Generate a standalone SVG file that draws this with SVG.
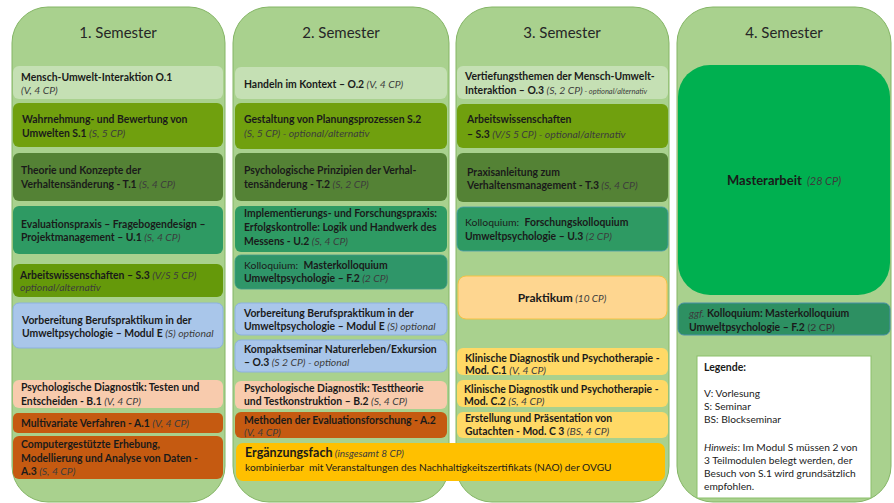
<svg xmlns="http://www.w3.org/2000/svg" width="894" height="503" viewBox="0 0 894 503">
<style>
text{font-family:Lato,"Liberation Sans",sans-serif;font-size:10.4px;fill:#1a1a1a}
.b{font-weight:bold}
.i{font-style:italic;font-weight:normal;fill:#3c3c3c}
.n{font-weight:normal}
.s{font-size:7.5px}
.title{font-size:15px;fill:#262626;text-anchor:middle}
.col{fill:#a9d18e;stroke:#84b565;stroke-width:1}
.lg{fill:#c5e0b4}
.ol{fill:#70a00e}
.ol2{fill:#65990a}
.dg{fill:#548235}
.tl{fill:#2e9a63}
.tl2{fill:#2f9669;stroke:#3f9a8a;stroke-width:0.8}
.bl{fill:#a9c6ea;stroke:#8db1e0;stroke-width:1}
.pe{fill:#f8cbad}
.or{fill:#c55a11}
.ye{fill:#ffd966}
.leg{font-weight:normal;fill:#222;font-size:10.2px}
</style>
<g id="columns">
<rect class="col" x="12" y="7" width="213" height="495" rx="36"/>
<rect class="col" x="233" y="7" width="216" height="495" rx="36"/>
<rect class="col" x="456" y="7" width="213" height="495" rx="36"/>
<rect class="col" x="677" y="7" width="214" height="495" rx="36"/>
<text class="title" x="118" y="38">1. Semester</text>
<text class="title" x="341" y="38">2. Semester</text>
<text class="title" x="562" y="38">3. Semester</text>
<text class="title" x="784" y="38">4. Semester</text>
</g>
<g id="s1-O1"><rect class="lg" x="13" y="66" width="210" height="33" rx="6"/>
<text class="b" x="21" y="81">Mensch-Umwelt-Interaktion O.1</text><text class="i" x="21" y="94">(V, 4 CP)</text></g>
<g id="s1-S1"><rect class="ol" x="13" y="103" width="210" height="44" rx="6"/>
<text class="b" x="22" y="123">Wahrnehmung- und Bewertung von</text><text class="b" x="22" y="137">Umwelten S.1<tspan class="i"> (S, 5 CP)</tspan></text></g>
<g id="s1-T1"><rect class="dg" x="13" y="153" width="210" height="48" rx="6"/>
<text class="b" x="21" y="174">Theorie und Konzepte der</text><text class="b" x="21" y="188">Verhaltensänderung - T.1<tspan class="i"> (S, 4 CP)</tspan></text></g>
<g id="s1-U1"><rect class="tl" x="13" y="206" width="210" height="48" rx="6"/>
<text class="b" x="21" y="228">Evaluationspraxis – Fragebogendesign –</text><text class="b" x="21" y="241">Projektmanagement – U.1<tspan class="i"> (S, 4 CP)</tspan></text></g>
<g id="s1-S3"><rect class="ol2" x="13" y="264" width="210" height="33" rx="6"/>
<text class="b" x="20" y="279">Arbeitswissenschaften – S.3<tspan class="i"> (V/S 5 CP)</tspan></text><text class="i" x="20" y="291">optional/alternativ</text></g>
<g id="s1-E"><rect class="bl" x="13" y="303" width="210" height="45" rx="6"/>
<text class="b" x="22" y="324">Vorbereitung Berufspraktikum in der</text><text class="b" x="22" y="337">Umweltpsychologie – Modul E<tspan class="i"> (S) optional</tspan></text></g>
<g id="s1-B1"><rect class="pe" x="13" y="380" width="210" height="28" rx="6"/>
<text class="b" x="21" y="391">Psychologische Diagnostik: Testen und</text><text class="b" x="21" y="405">Entscheiden - B.1<tspan class="i"> (V, 4 CP)</tspan></text></g>
<g id="s1-A1"><rect class="or" x="13" y="413" width="210" height="20" rx="5"/>
<text class="b" x="21" y="427">Multivariate Verfahren - A.1<tspan class="i"> (V, 4 CP)</tspan></text></g>
<g id="s1-A3"><rect class="or" x="13" y="436" width="210" height="43" rx="6"/>
<text class="b" x="21" y="448">Computergestützte Erhebung,</text><text class="b" x="21" y="462">Modellierung und Analyse von Daten -</text><text class="b" x="21" y="475">A.3<tspan class="i"> (S, 4 CP)</tspan></text></g>

<g id="s2-O2"><rect class="lg" x="235" y="67" width="212" height="32" rx="6"/>
<text class="b" x="244" y="88">Handeln im Kontext – O.2<tspan class="i"> (V, 4 CP)</tspan></text></g>
<g id="s2-S2"><rect class="ol" x="235" y="103" width="212" height="46" rx="6"/>
<text class="b" x="244" y="123">Gestaltung von Planungsprozessen S.2</text><text class="i" x="244" y="137">(S, 5 CP) - optional/alternativ</text></g>
<g id="s2-T2"><rect class="dg" x="235" y="153" width="212" height="48" rx="6"/>
<text class="b" x="244" y="174">Psychologische Prinzipien der Verhal-</text><text class="b" x="244" y="188">tensänderung - T.2<tspan class="i"> (S, 2 CP)</tspan></text></g>
<g id="s2-U2"><rect class="tl" x="235" y="206" width="212" height="46" rx="6"/>
<text class="b" x="244" y="217">Implementierungs- und Forschungspraxis:</text><text class="b" x="244" y="231">Erfolgskontrolle: Logik und Handwerk des</text><text class="b" x="244" y="245">Messens - U.2<tspan class="i"> (S, 4 CP)</tspan></text></g>
<g id="s2-F2"><rect class="tl2" x="235" y="255" width="212" height="34" rx="6"/>
<text class="n" x="244" y="269">Kolloquium:&#160; <tspan class="b">Masterkolloquium</tspan></text><text class="b" x="244" y="282">Umweltpsychologie – F.2<tspan class="i"> (2 CP)</tspan></text></g>
<g id="s2-E"><rect class="bl" x="235" y="303" width="212" height="32" rx="6"/>
<text class="b" x="244" y="317">Vorbereitung Berufspraktikum in der</text><text class="b" x="244" y="330">Umweltpsychologie – Modul E<tspan class="i"> (S) optional</tspan></text></g>
<g id="s2-O3"><rect class="bl" x="235" y="340" width="212" height="32" rx="6"/>
<text class="b" x="244" y="353">Kompaktseminar Naturerleben/Exkursion</text><text class="b" x="244" y="366">– O.3<tspan class="i"> (S 2 CP) - optional</tspan></text></g>
<g id="s2-B2"><rect class="pe" x="235" y="381" width="212" height="28" rx="6"/>
<text class="b" x="244" y="392">Psychologische Diagnostik: Testtheorie</text><text class="b" x="244" y="405">und Testkonstruktion – B.2<tspan class="i"> (S, 4 CP)</tspan></text></g>
<g id="s2-A2"><rect class="or" x="235" y="412" width="212" height="26" rx="6"/>
<text class="b" x="244" y="424">Methoden der Evaluationsforschung - A.2</text><text class="i" x="244" y="436">(V, 4 CP)</text></g>
<g id="erg"><rect x="236" y="443" width="429" height="38" rx="7" fill="#ffc000"/>
<text class="b" x="245" y="457" style="font-size:12.5px">Ergänzungsfach<tspan class="i" style="font-size:10px"> (insgesamt 8 CP)</tspan></text>
<text class="n" x="245" y="471" style="font-size:10.2px">kombinierbar&#160; mit Veranstaltungen des Nachhaltigkeitszertifikats (NAO) der OVGU</text></g>

<g id="s3-O3"><rect class="lg" x="457" y="66" width="211" height="33" rx="6"/>
<text class="b" x="465" y="80">Vertiefungsthemen der Mensch-Umwelt-</text><text class="b" x="465" y="94">Interaktion – O.3<tspan class="i"> (S, 2 CP)</tspan><tspan class="i s"> - optional/alternativ</tspan></text></g>
<g id="s3-S3"><rect class="ol" x="457" y="104" width="211" height="44" rx="6"/>
<text class="b" x="467" y="123">Arbeitswissenschaften</text><text class="b" x="467" y="138">– S.3<tspan class="i"> (V/S 5 CP) - optional/alternativ</tspan></text></g>
<g id="s3-T3"><rect class="dg" x="457" y="153" width="211" height="49" rx="6"/>
<text class="b" x="467" y="176">Praxisanleitung zum</text><text class="b" x="467" y="189">Verhaltensmanagement - T.3<tspan class="i"> (S, 4 CP)</tspan></text></g>
<g id="s3-U3"><rect class="tl" x="457" y="207" width="211" height="44" rx="6" stroke="#4a9ab0" stroke-width="0.8"/>
<text class="n" x="465" y="226">Kolloquium:&#160; <tspan class="b">Forschungskolloquium</tspan></text><text class="b" x="465" y="240">Umweltpsychologie – U.3<tspan class="i"> (2 CP)</tspan></text></g>
<g id="s3-prak"><rect x="458" y="276" width="209" height="43" rx="8" fill="#fed690" stroke="#f5c242" stroke-width="1"/>
<text class="b" x="562" y="302" text-anchor="middle" style="font-size:12px">Praktikum<tspan class="i" style="font-size:10px"> (10 CP)</tspan></text></g>
<g id="s3-C1"><rect class="ye" x="457" y="348" width="211" height="27" rx="6"/>
<text class="b" x="465" y="362">Klinische Diagnostik und Psychotherapie -</text><text class="b" x="465" y="374">Mod. C.1<tspan class="i"> (V, 4 CP)</tspan></text></g>
<g id="s3-C2"><rect class="ye" x="457" y="380" width="211" height="27" rx="6"/>
<text class="b" x="464" y="393">Klinische Diagnostik und Psychotherapie -</text><text class="b" x="464" y="405">Mod. C.2<tspan class="i"> (S, 4 CP)</tspan></text></g>
<g id="s3-C3"><rect class="ye" x="457" y="412" width="211" height="26" rx="6"/>
<text class="b" x="465" y="422">Erstellung und Präsentation von</text><text class="b" x="465" y="435">Gutachten - Mod. C 3<tspan class="i"> (BS, 4 CP)</tspan></text></g>

<g id="s4-master"><rect x="678" y="65" width="212" height="230" rx="32" fill="#00b050"/>
<text class="b" x="784" y="185" text-anchor="middle" style="font-size:13px">Masterarbeit<tspan class="i" style="font-size:11px">&#160; (28 CP)</tspan></text></g>
<g id="s4-F2"><rect x="678" y="303" width="212" height="32" rx="6" fill="#2d9062" stroke="#4a8fa8" stroke-width="1"/>
<text class="i" x="689" y="317">ggf.<tspan class="b" style="font-style:normal;fill:#1a1a1a"> Kolloquium: Masterkolloquium</tspan></text><text class="b" x="689" y="331">Umweltpsychologie – F.2<tspan class="n" style="fill:#333"> (2 CP)</tspan></text></g>
<g id="legende"><rect x="697" y="356" width="174" height="142" fill="#ffffff" stroke="#8bbf6a" stroke-width="1"/>
<text class="b" x="704" y="371" style="font-size:10.5px">Legende:</text>
<text class="leg" x="704" y="397">V: Vorlesung</text>
<text class="leg" x="704" y="410">S: Seminar</text>
<text class="leg" x="704" y="423">BS: Blockseminar</text>
<text class="leg" x="704" y="451"><tspan style="font-style:italic">Hinweis</tspan>: Im Modul S müssen 2 von</text>
<text class="leg" x="704" y="464">3 Teilmodulen belegt werden, der</text>
<text class="leg" x="704" y="477">Besuch von S.1 wird grundsätzlich</text>
<text class="leg" x="704" y="490">empfohlen.</text></g>
</svg>
